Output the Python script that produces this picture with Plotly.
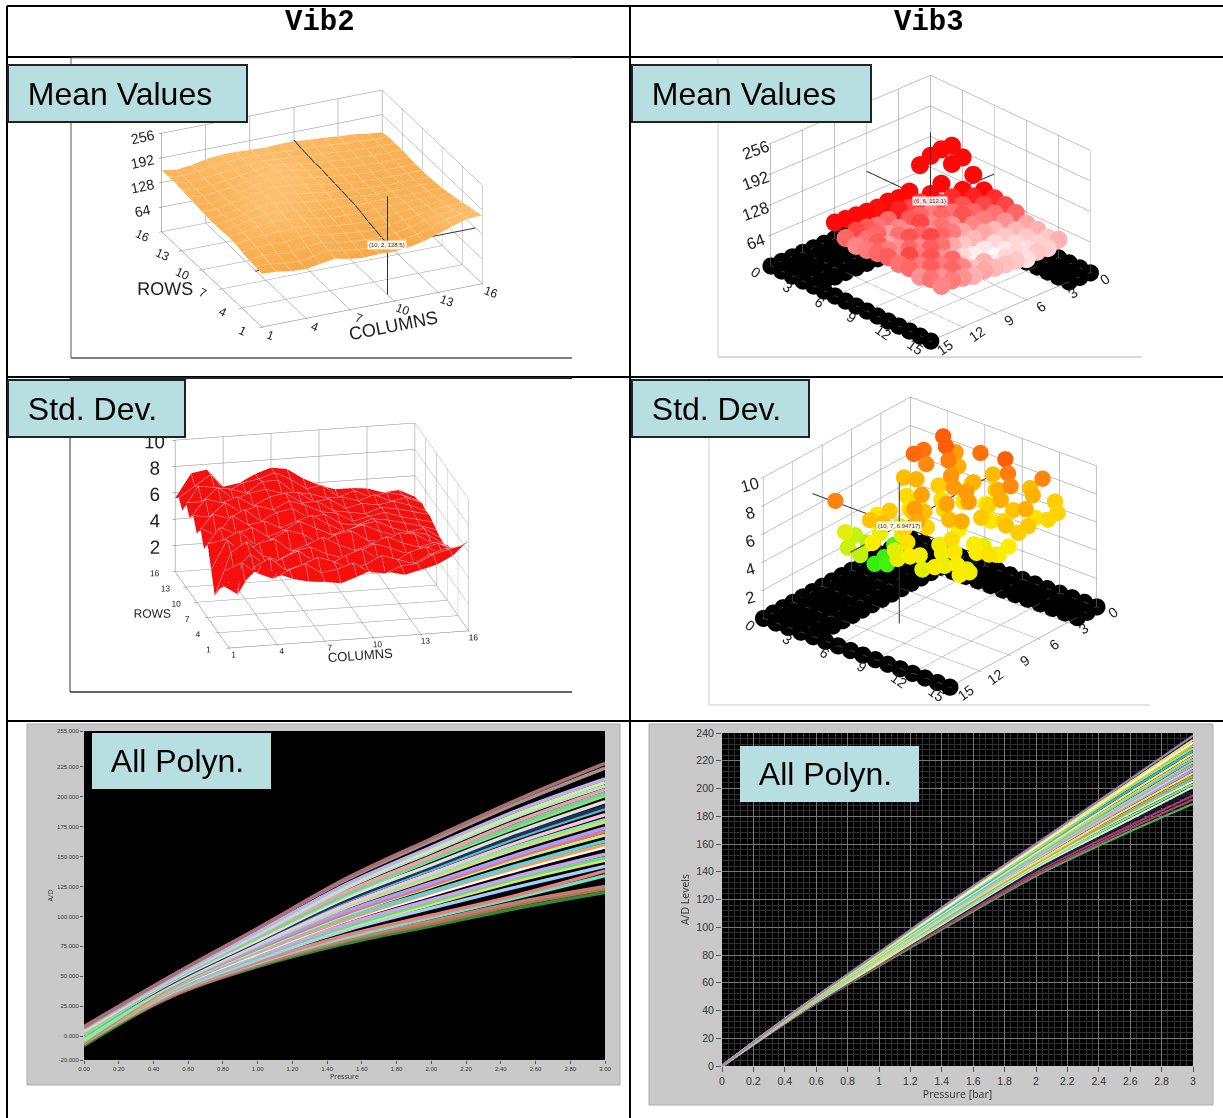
import plotly.graph_objects as go

W, H = 1223, 1118

# ---------- data ----------
grid_16 = list(range(1, 17))
mean_vib2 = [
 [138,136,130,128,134,140,132,128,130,128,132,140,152,165,176,178],
 [140,140,135,132,138,146,138,132,130,128,134,142,154,166,172,172],
 [142,146,142,140,146,150,142,136,134,132,136,144,154,162,166,168],
 [146,150,150,150,154,154,146,142,138,136,140,146,152,158,160,162],
 [150,154,158,160,162,158,150,146,142,140,144,148,152,154,156,158],
 [152,156,164,168,168,162,154,150,148,146,148,150,152,152,152,154],
 [150,156,166,172,172,166,158,154,152,150,150,150,150,150,150,150],
 [150,154,164,172,176,172,164,158,156,152,150,148,148,148,148,148],
 [150,152,160,170,176,176,170,164,158,154,150,148,146,146,146,146],
 [152,150,158,166,174,178,174,168,162,156,152,148,146,146,146,146],
 [154,150,156,162,172,178,178,172,164,158,154,150,148,146,146,146],
 [156,152,156,160,168,176,178,174,166,160,156,152,150,148,148,148],
 [158,152,156,160,166,172,176,172,166,160,158,154,152,150,150,150],
 [160,154,158,162,166,170,172,170,166,162,160,158,154,152,152,150],
 [160,154,160,164,168,170,170,168,166,164,162,160,156,154,152,150],
 [160,154,158,166,170,170,168,166,168,168,164,162,158,156,150,146],
]
std_vib2 = [
 [4.7,5.0,6.1,5.4,4.9,4.6,4.5,4.3,4.7,5.2,4.9,4.6,4.9,5.2,5.8,6.9],
 [5.5,6.0,5.1,4.6,5.2,5.6,4.8,5.0,5.4,4.6,4.4,4.9,5.0,5.6,5.9,6.2],
 [4.0,3.2,5.2,5.8,4.8,5.1,5.6,5.2,4.5,4.8,5.4,5.0,4.6,5.2,5.6,5.6],
 [3.2,4.6,5.8,4.9,5.3,5.8,4.9,4.6,5.2,5.6,4.7,4.4,5.1,5.4,4.8,5.0],
 [2.4,5.6,6.4,5.2,4.8,5.4,5.6,5.0,4.6,5.0,5.5,5.1,4.6,4.9,5.2,4.6],
 [4.0,6.2,5.0,5.8,6.0,5.0,5.4,5.9,5.2,4.7,5.1,5.6,5.0,4.6,4.9,4.4],
 [5.6,5.8,6.4,5.2,5.6,6.2,5.8,5.0,5.6,5.8,5.0,4.8,5.4,5.2,4.5,4.2],
 [4.8,6.4,5.8,6.2,5.4,5.8,6.4,5.8,5.2,5.5,5.8,5.2,4.8,5.0,4.7,3.9],
 [6.0,5.4,6.8,6.0,6.2,5.6,6.0,6.4,5.6,5.0,5.4,5.6,5.0,4.6,4.8,4.0],
 [5.2,6.6,6.2,6.8,5.8,6.4,6.6,5.8,6.0,5.2,5.0,5.4,5.2,4.9,4.6,4.2],
 [6.2,6.0,7.0,6.2,6.6,6.2,6.8,6.4,5.8,5.6,4.9,5.2,5.4,5.0,4.7,4.4],
 [5.6,7.0,6.6,7.0,6.2,6.8,7.0,6.2,6.2,5.4,5.2,5.0,5.4,5.2,4.9,4.6],
 [6.4,6.4,7.4,6.4,6.8,7.0,6.6,6.6,5.8,5.9,5.1,5.4,5.2,5.4,5.0,4.5],
 [5.4,7.2,7.0,6.8,6.4,7.2,7.2,6.2,6.0,5.6,5.6,5.2,5.6,5.0,5.2,4.7],
 [6.0,6.8,7.6,6.2,6.8,7.0,7.4,6.8,6.0,6.2,5.2,5.6,5.0,5.3,5.0,4.5],
 [5.6,7.4,7.6,6.2,6.4,7.0,7.4,7.2,6.4,5.8,5.4,5.4,5.3,4.9,5.0,4.4],
]
plate_a = [5,6,7,8,9,10,11,12,13,14,15]
plate_b = [3,4,5,6,7,8,9,10,11,12,13,14]
mean_vib3 = [
 [190,192,188,178,132,128,130,127,128,130,132,134],
 [176,172,140,128,120,118,124,112,110,115,118,112],
 [150,128,122,118,108,112,115,106,102,112,110,106],
 [128,124,116,110,112,106,118,104,110,100,114,108],
 [122,118,112,116,104,110,104,112,116,104,108,112],
 [118,110,108,106,100,108,112,118,106,112,104,114],
 [112,104,96,100,96,92,100,110,114,108,118,110],
 [100,96,92,88,84,82,88,96,104,116,108,112],
 [98,92,88,84,80,78,82,92,112,108,114,104],
 [92,90,86,88,88,84,98,94,106,112,104,110],
 [98,90,92,86,92,94,96,100,98,104,108,106],
]
std_vib3 = [
 [10.0,None,9.8,9.9,8.6,4.2,3.7,3.6,None,6.4,7.0,9.6],
 [9.2,10.0,None,9.5,8.8,8.0,4.4,3.9,7.8,6.2,None,6.6],
 [None,8.9,9.7,8.3,None,7.6,7.8,6.95,8.4,7.2,8.5,6.4],
 [9.8,7.9,None,9.3,8.0,None,9.1,8.3,7.0,None,8.6,7.6],
 [8.6,None,8.8,7.8,9.2,8.0,None,8.6,9.2,8.2,7.0,None],
 [10.0,8.2,7.6,None,9.2,7.4,9.1,None,8.2,9.0,7.9,7.1],
 [None,9.7,8.9,8.2,None,9.2,7.6,8.7,7.3,None,7.3,7.6],
 [8.6,None,9.5,8.9,7.8,8.4,None,8.9,8.0,7.4,None,7.0],
 [9.6,8.8,None,8.5,8.1,None,7.1,7.6,None,7.8,7.2,7.5],
 [8.3,None,7.9,8.9,None,8.5,6.8,None,7.7,6.9,7.6,None],
 [None,8.2,8.1,None,8.4,8.3,7.7,7.5,7.9,None,7.4,7.6],
]
grid_15 = list(range(0, 16))
pressure = [0, 0.5, 1, 1.5, 2, 2.5, 3]
poly_vib2 = [
 [-8,33,58,77,92,107,120],[-5,33,59,79,94,110,123],[-6,34,60,80,96,112,125],
 [-4,35,61,82,99,116,134],[-6,35,62,84,101,118,138],[-5,36,64,88,107,125,142],
 [-3,37,66,90,110,130,147],[-6,37,66,91,112,132,149],[-4,38,67,93,114,134,152],
 [-2,39,69,96,118,139,158],[-5,39,70,97,120,141,160],[-1,40,71,99,121,143,163],
 [-3,41,72,101,125,148,168],[-6,41,73,102,126,150,171],[0,42,74,104,128,152,174],
 [-1,42,76,107,132,157,179],[-4,42,76,108,134,159,181],[1,43,77,109,136,162,185],
 [0,44,79,112,139,166,190],[3,44,79,113,141,168,192],[2,45,80,115,143,171,196],
 [1,46,82,117,147,175,201],[4,46,83,118,148,177,203],[3,47,84,120,150,180,206],
 [4,47,85,123,154,184,209],[5,48,87,125,156,186,212],[6,48,87,126,158,189,215],
 [7,50,90,130,163,195,224],[8,50,90,131,165,198,228],
]
colors_vib2 = ['#2e8b2e','#b0705a','#c08070','#70e0c0','#e88080','#9fd0ff','#e0e070','#60e080','#d0a0f0',
 '#ffffff','#f0a060','#60d0e0','#c0f080','#f07080','#a0a0ff','#f0d080','#80f0a0','#ffc0e0','#50c0c0',
 '#203060','#e0e0e0','#90e070','#70d0a0','#f0a0a0','#b0e0e0','#d0f090','#c0b0f0','#a89090','#a87070']
poly_vib3 = [
 [0,38,72,105,137,164,189],[0,38,73,106,138,166,192],[0,38,73,107,140,168,195],
 [0,39,74,108,141,170,198],[0,39,74,109,143,172,201],[0,39,75,110,144,174,203],
 [0,39,75,111,145,176,205],[0,39,76,111,146,177,207],[0,40,76,112,146,178,209],
 [0,40,76,113,147,180,211],[0,40,77,114,149,182,213],[0,40,77,114,149,183,215],
 [0,40,78,115,150,184,217],[0,40,78,115,151,185,219],[0,41,79,116,152,187,221],
 [0,41,79,117,153,188,223],[0,41,79,117,154,190,225],[0,41,80,118,155,192,227],
 [0,41,80,119,156,194,229],[0,41,81,120,157,195,231],[0,42,81,120,158,196,233],
 [0,42,81,121,159,197,235],[0,42,82,122,160,199,238],
]
colors_vib3 = ['#4caf50','#b0406a','#a04070','#102040','#e8f0c0','#80e0a0','#f0f0a0','#60d0d0','#d0a050',
 '#f0e060','#b0a0f0','#a0e0f0','#f090b0','#90e090','#70c0f0','#d0d060','#f0f080','#40b0e0','#90f070',
 '#e0c040','#ffffff','#e0f060','#a080c0']

# ---------- helpers ----------
def px(v): return v / W
def py(v): return 1 - v / H
def dom(x0, y0, x1, y1):
    return dict(x=[px(x0), px(x1)], y=[py(y1), py(y0)])

def axis(vals, rng, title='', size=12, angle=0, tsize=16):
    return dict(range=rng, tickvals=vals, title=dict(text=title, font=dict(size=tsize, color='#222', family='Liberation Sans')),
                showbackground=False, gridcolor='#8a8a8a', gridwidth=1, showline=True, linecolor='#777',
                zeroline=False, showspikes=False, ticks='outside', ticklen=3, tickcolor='#666', tickangle=angle,
                tickfont=dict(size=size, color='#222', family='Liberation Sans'))

def cam(eye, L, cx=0, cy=0):
    return dict(projection=dict(type='orthographic'), up=dict(x=0, y=0, z=1),
                center=dict(x=cx, y=cy, z=0),
                eye=dict(x=eye[0]*L, y=eye[1]*L, z=eye[2]*L))

cross_col = '#333333'
def l3(xs, ys, zs, scene):
    return go.Scatter3d(x=xs, y=ys, z=zs, mode='lines', line=dict(color=cross_col, width=2),
                        showlegend=False, hoverinfo='skip', scene=scene)

fig = go.Figure()

# --- Vib2 mean ---
fig.add_trace(go.Surface(x=grid_16, y=grid_16, z=mean_vib2, scene='scene', showscale=False,
    colorscale=[[0, '#f6a848'], [0.5, '#fab257'], [1, '#ffc070']], cmin=125, cmax=178,
    lighting=dict(ambient=0.92, diffuse=0.12, specular=0, roughness=1),
    contours=dict(x=dict(show=True, color='#ffdca0', width=1, start=1, end=16, size=1),
                  y=dict(show=True, color='#ffdca0', width=1, start=1, end=16, size=1))))
fig.add_trace(l3([1, 16], [2, 2], [128.5, 128.5], 'scene'))
fig.add_trace(l3([10] * 15, grid_16[1:], [r[9] + 3 for r in mean_vib2[1:]], 'scene'))
fig.add_trace(l3([10, 10], [2, 2], [0, 256], 'scene'))

# --- Vib2 std ---
fig.add_trace(go.Surface(x=grid_16, y=grid_16, z=std_vib2, scene='scene2', showscale=False,
    colorscale=[[0, '#f50f0f'], [1, '#f50f0f']],
    lighting=dict(ambient=1, diffuse=0, specular=0, roughness=1),
    contours=dict(x=dict(show=True, color='#f4b8b8', width=1, start=1, end=16, size=1),
                  y=dict(show=True, color='#f4b8b8', width=1, start=1, end=16, size=1))))

# --- Vib3 scatter ---
def floor_points():
    xs, ys = [], []
    for a in grid_15:
        for b in grid_15:
            if a < 5 or b < 3 or b == 15:
                xs.append(b); ys.append(a)
    return xs, ys

def plate(matrix):
    xs, ys, zs = [], [], []
    for i, a in enumerate(plate_a):
        for j, b in enumerate(plate_b):
            if matrix[i][j] is not None:
                xs.append(b); ys.append(a); zs.append(matrix[i][j])
    return xs, ys, zs

fx, fy = floor_points()
for scene in ('scene3', 'scene4'):
    fig.add_trace(go.Scatter3d(x=fx, y=fy, z=[0]*len(fx), mode='markers', scene=scene, showlegend=False,
                               marker=dict(size=10, color='black', line=dict(width=0))))
xs, ys, zs = plate(mean_vib3)
fig.add_trace(go.Scatter3d(x=xs, y=ys, z=zs, mode='markers', scene='scene3', showlegend=False,
    marker=dict(size=10.5, color=zs, cmin=78, cmax=128, line=dict(width=0),
                colorscale=[[0, '#ffffff'], [0.4, '#ffb0b0'], [0.75, '#ff5555'], [1, '#ff0808']])))
fig.add_trace(l3([0, 6], [6, 6], [112.1, 112.1], 'scene3'))
fig.add_trace(l3([6, 6], [0, 6], [112.1, 112.1], 'scene3'))
fig.add_trace(l3([6, 6], [6, 6], [112.1, 256], 'scene3'))
xs, ys, zs = plate(std_vib3)
fig.add_trace(go.Scatter3d(x=xs, y=ys, z=zs, mode='markers', scene='scene4', showlegend=False,
    marker=dict(size=9.5, color=zs, cmin=3.5, cmax=10.2, line=dict(width=0),
                colorscale=[[0, '#33ee11'], [0.45, '#c8f010'], [0.62, '#ffee00'], [0.8, '#ffb000'],
                            [0.92, '#ff8010'], [1, '#ff4a05']])))
fig.add_trace(l3([0, 15], [7, 7], [6.95, 6.95], 'scene4'))
fig.add_trace(l3([10, 10], [0, 15], [6.95, 6.95], 'scene4'))
fig.add_trace(l3([10, 10], [7, 7], [0, 10], 'scene4'))

# --- polynomial fans ---
for row, c in zip(poly_vib2, colors_vib2):
    fig.add_trace(go.Scatter(x=pressure, y=row, mode='lines', xaxis='x', yaxis='y', showlegend=False,
                             line=dict(color=c, width=3.4, shape='spline')))
for row, c in zip(poly_vib3, colors_vib3):
    fig.add_trace(go.Scatter(x=pressure, y=row, mode='lines', xaxis='x2', yaxis='y2', showlegend=False,
                             line=dict(color=c, width=2.2, shape='spline')))

shapes = []
def line(x0, y0, x1, y1, c='black', w=2):
    shapes.append(dict(type='line', xref='paper', yref='paper', x0=px(x0), y0=py(y0), x1=px(x1), y1=py(y1),
                       line=dict(color=c, width=w), layer='below'))
def panel(x0, y0, x1, y1, fill='#c9c9c9'):
    shapes.append(dict(type='rect', xref='paper', yref='paper', x0=px(x0), y0=py(y0), x1=px(x1), y1=py(y1),
                       fillcolor=fill, line=dict(color='#aaaaaa', width=0 if fill == 'black' else 1), layer='below'))
panel(27, 724, 620, 1085); panel(84, 731, 605, 1060, 'black')
panel(649, 724, 1213, 1105); panel(722, 733, 1193, 1066, 'black')
for y in (6, 57, 377, 721):
    line(7, y, 1223, y)
line(7, 6, 7, 1118); line(630, 6, 630, 1118)
# picture frames
line(71, 58, 71, 358, '#555', 1); line(71, 358, 572, 358, '#555', 1.5); line(71, 58, 572, 58, '#888', 1)
line(718, 58, 718, 357, '#ccc', 1); line(718, 357, 1142, 357, '#ccc', 1.5)
line(70, 378, 70, 692, '#333', 1); line(70, 692, 572, 692, '#333', 1.5); line(70, 378, 572, 378, '#222', 2)
line(709, 378, 709, 705, '#ccc', 1); line(709, 705, 1150, 705, '#ddd', 1.5)

anns = []
def header(text, x):
    anns.append(dict(xref='paper', yref='paper', x=px(x), y=py(23), xanchor='center', yanchor='middle',
                     text=text, showarrow=False,
                     font=dict(family='Liberation Mono', size=29, color='black')))
header('<b>Vib2</b>', 320); header('<b>Vib3</b>', 929)
def label(text, x0, y0, x1, y1, pad, border=True):
    bw = 2 if border else 0
    anns.append(dict(xref='paper', yref='paper', x=px(x0), y=py(y0), xanchor='left', yanchor='top',
                     text='\u00a0' * pad + text, showarrow=False, align='left', valign='middle',
                     width=x1 - x0 - 2 - 2 * bw, height=y1 - y0 - 2 - 2 * bw, borderpad=1, bgcolor='#b7dfe2',
                     bordercolor='#222' if border else '#b7dfe2', borderwidth=bw,
                     font=dict(family='Liberation Sans', size=32, color='black')))
label('Mean Values', 7, 64, 248, 123, 2)
label('Mean Values', 631, 64, 872, 123, 2)
label('Std. Dev.', 7, 379, 186, 438, 2)
label('Std. Dev.', 631, 379, 810, 438, 2)
label('All Polyn.', 92, 733, 271, 789, 2, False)
label('All Polyn.', 740, 746, 919, 802, 2, False)

def sann(x, y, z, text):
    return dict(x=x, y=y, z=z, text=text, showarrow=False, bgcolor='rgba(255,255,255,0.85)',
                font=dict(size=6, color='#333', family='Liberation Sans'))

fig.update_layout(
    width=W, height=H, autosize=False, margin=dict(l=0, r=0, t=0, b=0), paper_bgcolor='white',
    plot_bgcolor='black', showlegend=False, shapes=shapes, annotations=anns,
    scene=dict(domain=dom(72, 59, 572, 358), aspectmode='manual', aspectratio=dict(x=1.62, y=1.62, z=0.73),
               camera=cam((-0.373, -0.821, 0.432), 1.25),
               xaxis=axis([1,4,7,10,13,16], [1,16], 'COLUMNS', 12, 20, 18), yaxis=axis([1,4,7,10,13,16], [1,16], 'ROWS', 12, 25, 18),
               zaxis=axis([64,128,192,256], [0,256], '', 13, -12),
               annotations=[sann(10, 2, 128.5, '(10, 2, 128.5)')]),
    scene2=dict(domain=dom(72, 379, 572, 692), aspectmode='manual', aspectratio=dict(x=1.57, y=1.57, z=0.887),
               camera=cam((-0.208, -0.925, 0.318), 1.25),
               xaxis=axis([1,4,7,10,13,16], [1,16], 'COLUMNS', 10, 0, 13), yaxis=axis([1,4,7,10,13,16], [1,16], 'ROWS', 10, 0, 12),
               zaxis=axis([2,4,6,8,10], [0,10], '', 15)),
    scene3=dict(domain=dom(719, 59, 1142, 357), aspectmode='manual', aspectratio=dict(x=1.48, y=1.554, z=0.918),
               camera=cam((0.617, 0.647, 0.448), 1.25),
               xaxis=axis([0,3,6,9,12,15], [0,15], '', 13, -35), yaxis=axis([0,3,6,9,12,15], [0,15], '', 13, 35),
               zaxis=axis([64,128,192,256], [0,256], '', 14, -20),
               annotations=[sann(6, 6, 112.1, '(6, 6, 112.1)')]),
    scene4=dict(domain=dom(710, 379, 1150, 705), aspectmode='manual', aspectratio=dict(x=1.42, y=1.48, z=0.966),
               camera=cam((0.691, 0.568, 0.449), 1.25),
               xaxis=axis([0,3,6,9,12,15], [0,15], '', 13, -35), yaxis=axis([0,3,6,9,12,15], [0,15], '', 13, 35),
               zaxis=axis([2,4,6,8,10], [0,10], '', 14, -15),
               annotations=[sann(10, 7, 6.95, '(10, 7, 6.94717)')]),
    xaxis=dict(domain=[px(84), px(605)], range=[0, 3], tickvals=[i/5 for i in range(16)], automargin=False,
               ticktext=['%.2f' % (i/5) for i in range(16)], tickfont=dict(size=6, color='#333', family='Liberation Sans'),
               title=dict(text='Pressure', font=dict(size=7, color='#333'), standoff=2), showgrid=False, zeroline=False,
               ticks='outside', ticklen=3, anchor='y', tickcolor='#555'),
    yaxis=dict(domain=[py(1060), py(731)], range=[-20, 255], tickvals=[-20,0,25,50,75,100,125,150,175,200,225,255], automargin=False,
               ticktext=['-20.000','0.000','25.000','50.000','75.000','100.000','125.000','150.000','175.000','200.000','225.000','255.000'],
               tickfont=dict(size=6, color='#333', family='Liberation Sans'),
               title=dict(text='A/D', font=dict(size=7, color='#333'), standoff=2), showgrid=False, zeroline=False,
               ticks='outside', ticklen=3, anchor='x', tickcolor='#555'),
    xaxis2=dict(domain=[px(722), px(1193)], range=[0, 3], dtick=0.2, tickformat='~g', automargin=False,
               tickfont=dict(size=10.5, color='#333', family='Liberation Sans'),
               title=dict(text='Pressure [bar]', font=dict(size=10.5, color='#333'), standoff=4),
               gridcolor='#777', zeroline=False, ticks='outside', ticklen=5, anchor='y2', tickcolor='#555',
               minor=dict(dtick=0.04, showgrid=True, gridcolor='#303030', gridwidth=1)),
    yaxis2=dict(domain=[py(1066), py(733)], range=[0, 240], dtick=20, automargin=False,
               tickfont=dict(size=10.5, color='#333', family='Liberation Sans'),
               title=dict(text='A/D Levels', font=dict(size=10.5, color='#333'), standoff=4),
               gridcolor='#777', zeroline=False, ticks='outside', ticklen=5, anchor='x2', tickcolor='#555',
               minor=dict(dtick=4, showgrid=True, gridcolor='#303030', gridwidth=1)),
)
fig.write_html("out.html", config=dict(displayModeBar=False), post_script="document.body.style.margin='0';")
